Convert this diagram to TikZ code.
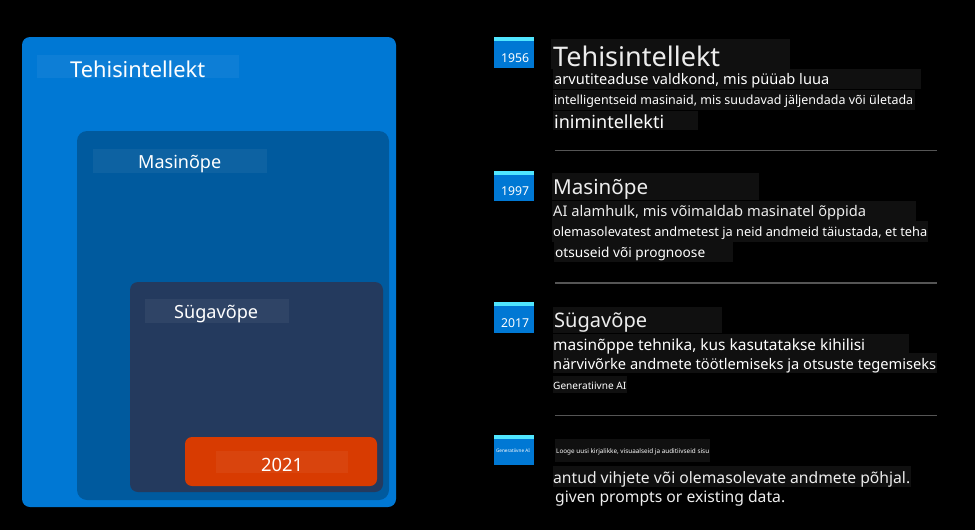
\documentclass[tikz,border=0pt]{standalone}
\usepackage{fontspec}
\setmainfont{Noto Sans}
\usepackage{graphicx}
\definecolor{aiblue}{HTML}{0078D4}
\definecolor{mlblue}{HTML}{005A9E}
\definecolor{dlnavy}{HTML}{243A5E}
\definecolor{genorange}{HTML}{D83B01}
\definecolor{cyanstrip}{HTML}{50E6FF}
\definecolor{txtbg}{HTML}{101010}
\definecolor{sepgray}{HTML}{555555}
\definecolor{softwhite}{HTML}{EDEDED}
\newcommand{\fitw}[2]{\resizebox{#1}{!}{\fontsize{20}{24}\selectfont #2}}
\tikzset{
  txt/.style={inner sep=0pt, anchor=base west, text=softwhite},
  lbl/.style={inner sep=0pt, anchor=base west, text=white},
  lblbg/.style={fill=white, fill opacity=0.05},
  badge/.style={fill=aiblue},
  strip/.style={fill=cyanstrip},
  sep/.style={draw=sepgray, line width=1.3pt}
}
\begin{document}
\begin{tikzpicture}[x=1pt,y=-1pt]
\fill[black] (0,0) rectangle (975,530);
\useasboundingbox (0,0) rectangle (975,530);

% ---------- left nested boxes ----------
\fill[aiblue, rounded corners=8pt] (22,37) rectangle (396,507);
\fill[lblbg] (37,55) rectangle (239,78);
\node[lbl] (ailabel) at (70,77) {\fitw{135pt}{Tehisintellekt}};

\fill[mlblue, rounded corners=10pt] (77,131) rectangle (389,500);
\fill[lblbg] (93,149) rectangle (267,173);
\node[lbl] (mllabel) at (138,168) {\fitw{83pt}{Masinõpe}};

\fill[dlnavy, rounded corners=8pt] (130,282) rectangle (383,492);
\fill[lblbg] (145,299) rectangle (289,323);
\node[lbl] (dllabel) at (174,318) {\fitw{84pt}{Sügavõpe}};

\fill[genorange, rounded corners=7pt] (185,437) rectangle (377,486);
\fill[lblbg] (216,451) rectangle (348,473);
\node[lbl] (genlabel) at (261,471) {\fitw{42pt}{2021}};

% ---------- right timeline ----------
% badges
\fill[badge] (494,37) rectangle (534,68);
\fill[strip] (494,37) rectangle (534,41);
\node[lbl, anchor=base] (y1956) at (515,62) {\fitw{28pt}{1956}};

\fill[badge] (494,171) rectangle (534,201);
\fill[strip] (494,171) rectangle (534,175);
\node[lbl, anchor=base] (y1997) at (515,195) {\fitw{28pt}{1997}};

\fill[badge] (494,302) rectangle (534,333);
\fill[strip] (494,302) rectangle (534,306);
\node[lbl, anchor=base] (y2017) at (515,327) {\fitw{28pt}{2017}};

\fill[badge] (494,435) rectangle (534,465);
\fill[strip] (494,435) rectangle (534,439);
\node[lbl, anchor=base] (ygen) at (513,452) {\fitw{34pt}{Generatiivne AI}};

% text backgrounds
\fill[txtbg] (551,39) rectangle (790,69);
\fill[txtbg] (553,69) rectangle (921,89);
\fill[txtbg] (553,90) rectangle (915,110);
\fill[txtbg] (553,111) rectangle (698,130);

\fill[txtbg] (552,173) rectangle (759,200);
\fill[txtbg] (552,201) rectangle (916,221);
\fill[txtbg] (552,221) rectangle (928,242);
\fill[txtbg] (554,242) rectangle (733,262);

\fill[txtbg] (553,307) rectangle (722,333);
\fill[txtbg] (553,334) rectangle (909,353);
\fill[txtbg] (553,353) rectangle (937,373);
\fill[txtbg] (553,376) rectangle (627,393);

\fill[txtbg] (555,439) rectangle (710,462);
\fill[txtbg] (553,466) rectangle (911,487);

% row 1
\node[txt] (t1) at (553,66) {\fitw{167pt}{Tehisintellekt}};
\node[txt, text=white] (d1a) at (554,84) {\fitw{275pt}{arvutiteaduse valdkond, mis püüab luua}};
\node[txt, text=white] (d1b) at (554,104) {\fitw{359pt}{intelligentseid masinaid, mis suudavad jäljendada või ületada}};
\node[txt, text=white] (d1c) at (554,128) {\fitw{110pt}{inimintellekti}};

% row 2
\node[txt] (t2) at (553,194) {\fitw{95pt}{Masinõpe}};
\node[txt] (d2a) at (553,216) {\fitw{313pt}{AI alamhulk, mis võimaldab masinatel õppida}};
\node[txt, text=white] (d2b) at (553,236) {\fitw{374pt}{olemasolevatest andmetest ja neid andmeid täiustada, et teha}};
\node[txt, text=white] (d2c) at (555,257) {\fitw{150pt}{otsuseid või prognoose}};

% row 3
\node[txt] (t3) at (554,327) {\fitw{93pt}{Sügavõpe}};
\node[txt, text=white] (d3a) at (553,350) {\fitw{312pt}{masinõppe tehnika, kus kasutatakse kihilisi}};
\node[txt, text=white] (d3b) at (553,369) {\fitw{383pt}{närvivõrke andmete töötlemiseks ja otsuste tegemiseks}};
\node[txt, text=white] (d3c) at (553,389) {\fitw{73pt}{Generatiivne AI}};

% row 4
\node[txt, text=white] (d4t) at (556,453) {\fitw{153pt}{Looge uusi kirjalikke, visuaalseid ja auditiivseid sisu}};
\node[txt] (d4a) at (553,483) {\fitw{357pt}{antud vihjete või olemasolevate andmete põhjal.}};
\node[txt] (d4b) at (555,502) {\fitw{230pt}{given prompts or existing data.}};

% separators
\coordinate (s1a) at (555,150.5);
\coordinate (s1b) at (937,150.5);
\coordinate (s2a) at (555,283);
\coordinate (s2b) at (937,283);
\coordinate (s3a) at (555,415.5);
\coordinate (s3b) at (937,415.5);
\draw[sep] (s1a) -- (s1b);
\draw[sep] (s2a) -- (s2b);
\draw[sep] (s3a) -- (s3b);
\end{tikzpicture}
\end{document}
